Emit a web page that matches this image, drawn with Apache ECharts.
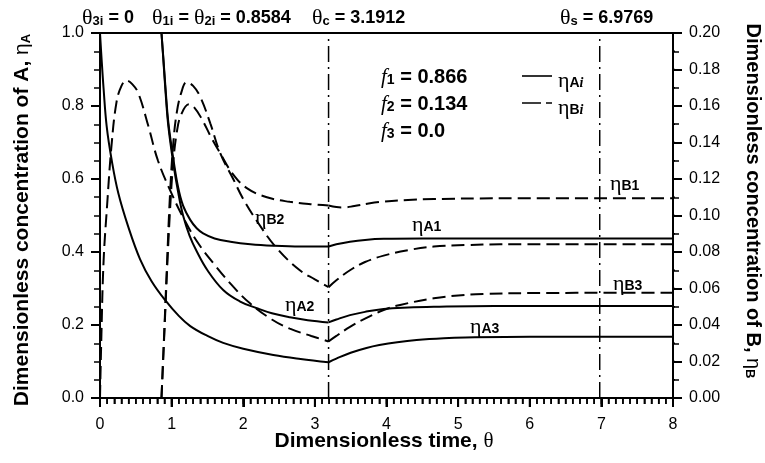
<!DOCTYPE html>
<html><head><meta charset="utf-8">
<script src="https://cdn.jsdelivr.net/npm/echarts@6/dist/echarts.min.js"></script>
<style>html,body{margin:0;padding:0;background:#fff}#c{width:765px;height:463px}</style>
</head><body><div id="c"></div>
<script>
// ---- data ----
const thetaC = 3.1912, thetaS = 6.9769, thetaI = 0.8584;
const xTickLabels = ['0','1','2','3','4','5','6','7','8'];
const leftTickLabels = ['0.0','0.2','0.4','0.6','0.8','1.0'];
const rightTickLabels = ['0.00','0.02','0.04','0.06','0.08','0.10','0.12','0.14','0.16','0.18','0.20'];
const xMajorTicks = [0,1,2,3,4,5,6,7,8];
const leftMajorTicks = [0,0.2,0.4,0.6,0.8,1.0];
const rightMajorTicks = [0,0.02,0.04,0.06,0.08,0.1,0.12,0.14,0.16,0.18,0.2];
const xMinorStep = 0.1, leftMinorStep = 0.05, rightMinorStep = 0.01;

const A1_pre = [[0.8584,1.0],[0.885,0.93],[0.92,0.835],[0.954,0.755],[1.02,0.66],[1.09,0.578],[1.16,0.527],[1.26,0.488],[1.35,0.465],[1.44,0.451],[1.6,0.437],[1.82,0.428],[2.1,0.421],[2.42,0.417],[2.8,0.415],[3.1912,0.415]];
const A2_pre = [[0.8584,1.0],[0.885,0.925],[0.92,0.825],[0.954,0.745],[1.02,0.648],[1.09,0.565],[1.16,0.5],[1.25,0.445],[1.35,0.402],[1.5,0.35],[1.72,0.296],[1.95,0.265],[2.19,0.246],[2.4,0.232],[2.65,0.221],[2.9,0.213],[3.1912,0.207]];
const A3_pre = [[0,1.0],[0.023,0.926],[0.05,0.848],[0.093,0.745],[0.163,0.652],[0.256,0.561],[0.395,0.469],[0.56,0.38],[0.72,0.32],[0.91,0.268],[1.1,0.225],[1.26,0.197],[1.5,0.17],[1.72,0.151],[2.0,0.135],[2.42,0.118],[2.8,0.107],[3.1912,0.098]];
const A1_post = [[3.1912,0.415],[3.3,0.421],[3.49,0.428],[3.7,0.433],[3.96,0.436],[4.5,0.437],[6,0.437],[8,0.437]];
const A2_post = [[3.1912,0.207],[3.3,0.215],[3.49,0.227],[3.7,0.236],[3.96,0.244],[4.3,0.248],[4.66,0.25],[5.5,0.252],[8,0.252]];
const A3_post = [[3.1912,0.098],[3.3,0.108],[3.5,0.124],[3.72,0.137],[3.9,0.145],[4.15,0.153],[4.42,0.159],[4.8,0.164],[5.1,0.166],[6,0.168],[8,0.168]];

const B1_pre = [[0.8584,0],[0.9,0.037],[0.94,0.073],[0.978,0.103],[1.02,0.128],[1.07,0.145],[1.13,0.155],[1.24,0.161],[1.32,0.159],[1.42,0.153],[1.55,0.143],[1.68,0.134],[1.85,0.123],[2.05,0.115],[2.33,0.11],[2.65,0.1075],[3.0,0.106],[3.1912,0.1055]];
const B2_pre = [[0.8584,0],[0.9,0.039],[0.94,0.078],[0.978,0.112],[1.02,0.138],[1.07,0.156],[1.14,0.168],[1.21,0.173],[1.3,0.171],[1.4,0.165],[1.54,0.1505],[1.68,0.134],[1.86,0.12],[2.0,0.109],[2.19,0.097],[2.47,0.082],[2.79,0.07],[3.0,0.065],[3.1912,0.0607]];
const B3_pre = [[0,0],[0.02,0.035],[0.05,0.075],[0.1,0.106],[0.16,0.138],[0.23,0.162],[0.3,0.171],[0.37,0.174],[0.45,0.172],[0.535,0.167],[0.675,0.149],[0.81,0.13],[1.0,0.112],[1.16,0.099],[1.35,0.086],[1.58,0.074],[1.86,0.061],[2.09,0.052],[2.4,0.043],[2.65,0.038],[2.95,0.034],[3.1912,0.031]];
const B1_post = [[3.1912,0.1055],[3.3,0.1046],[3.4,0.1044],[3.55,0.1052],[3.75,0.1066],[3.96,0.1076],[4.3,0.1085],[4.66,0.109],[5.5,0.1094],[8,0.1094]];
const B2_post = [[3.1912,0.0607],[3.3,0.0645],[3.49,0.07],[3.7,0.0745],[3.96,0.078],[4.3,0.081],[4.66,0.083],[5.1,0.0838],[5.59,0.0842],[8,0.0843]];
const B3_post = [[3.1912,0.031],[3.3,0.034],[3.49,0.039],[3.7,0.0435],[3.96,0.0482],[4.19,0.051],[4.66,0.0546],[5.0,0.0562],[5.35,0.057],[6,0.0575],[8,0.0577]];

// ---- chart ----
const chart = echarts.init(document.getElementById('c'), null, {renderer:'canvas'});
const SANS = '"Liberation Sans", Arial, Helvetica, sans-serif';
const SERIF = '"Liberation Serif", "Times New Roman", serif';
const DASH = [13, 6];
const PX_PER_X = 573 / 8, PX_PER_Y = 365;   // grid size, used only for tick lengths
function curve(data, yIdx, dashed){
  return {type:'line', data:data, xAxisIndex:0, yAxisIndex:yIdx, showSymbol:false, symbol:'none', smooth:0.4,
    silent:true, animation:false, z:3,
    lineStyle:{color:'#000', width:2, type: dashed ? DASH : 'solid'}};
}
function vline(x){
  return {type:'line', data:[[x,0],[x,1]], xAxisIndex:0, yAxisIndex:0, showSymbol:false, symbol:'none', silent:true, animation:false, z:2,
    lineStyle:{color:'#000', width:1.5, type:[16,5,2,5]}};
}
function steps(a, b, s){
  const r = [];
  for (let k = 0; a + k*s <= b + 1e-9; k++) r.push(+(a + k*s).toFixed(4));
  return r;
}
// axis ticks as short unclipped line segments placed through the axes' scales
function tickLines(values, side, yIdx, lenPx, width){
  const pts = [];
  values.forEach(v => {
    if (side === 'x') { pts.push([v, 0], [v, -lenPx / PX_PER_Y], [v, '-']); }
    else if (side === 'l') { pts.push([0, v], [-lenPx / PX_PER_X, v], ['-', v]); }
    else { pts.push([8, v], [8 + lenPx / PX_PER_X, v], ['-', v]); }
  });
  return {type:'line', data:pts, xAxisIndex:0, yAxisIndex:yIdx, showSymbol:false, symbol:'none', smooth:false,
    connectNulls:false, clip:false, silent:true, animation:false, z:6,
    lineStyle:{color:'#000', width:width, type:'solid', cap:'butt'}};
}
const richBase = {
  t:{font:'22px '+SERIF, lineHeight:20, fill:'#000'},
  s:{font:'bold 13px '+SANS, lineHeight:10, verticalAlign:'bottom', fill:'#000'},
  n:{font:'bold 18px '+SANS, lineHeight:20, fill:'#000'},
  e:{font:'22px '+SERIF, lineHeight:18, fill:'#000'},
  f:{font:'italic 21px '+SERIF, lineHeight:20, fill:'#000'},
  fn:{font:'bold 20px '+SANS, lineHeight:20, fill:'#000'},
  l:{font:'bold 14px '+SANS, lineHeight:10, verticalAlign:'bottom', fill:'#000'},
  si:{font:'bold italic 14px '+SERIF, lineHeight:10, verticalAlign:'bottom', fill:'#000'}
};
function txt(x, y, text){
  return {type:'text', x:x, y:y, silent:true, z:10,
    style:{text:text, align:'left', verticalAlign:'middle', rich:richBase, fill:'#000', font:'bold 18px '+SANS}};
}
const topLabels = [
  txt(82, 18, '{t|θ}{s|3i}{n| = 0}'),
  txt(152, 18, '{t|θ}{s|1i}{n| = }{t|θ}{s|2i}{n| = 0.8584}'),
  txt(312, 18, '{t|θ}{s|c}{n| = 3.1912}'),
  txt(560, 18, '{t|θ}{s|s}{n| = 6.9769}')
];
const legendTexts = [
  txt(381, 77, '{f|f}{l|1}{fn| = 0.866}'),
  txt(381, 104, '{f|f}{l|2}{fn| = 0.134}'),
  txt(381, 131, '{f|f}{l|3}{fn| = 0.0}'),
  txt(558, 81, '{e|η}{l|A}{si|i}'),
  txt(558, 108, '{e|η}{l|B}{si|i}'),
  {type:'line', silent:true, z:10, shape:{x1:522,y1:76,x2:552,y2:76}, style:{stroke:'#000', lineWidth:1.6}},
  {type:'line', silent:true, z:10, shape:{x1:522,y1:103,x2:552,y2:103}, style:{stroke:'#000', lineWidth:1.6, lineDash:[19,5,6,40]}}
];
const curveLabels = [
  txt(255, 218, '{e|η}{l|B2}'),
  txt(285, 305, '{e|η}{l|A2}'),
  txt(412, 225, '{e|η}{l|A1}'),
  txt(470, 327, '{e|η}{l|A3}'),
  txt(610, 184, '{e|η}{l|B1}'),
  txt(613, 284, '{e|η}{l|B3}')
];
const axisRich = {
  b:{font:'bold 21px '+SANS, fill:'#000'},
  e:{font:'21px '+SANS, fill:'#000'},
  s:{font:'bold 13px '+SANS, fill:'#000', verticalAlign:'bottom', lineHeight:10}
};
const axisRichR = {
  b:{font:'bold 20px '+SANS, fill:'#000'},
  e:{font:'20px '+SANS, fill:'#000'},
  s:{font:'bold 13px '+SANS, fill:'#000', verticalAlign:'bottom', lineHeight:10}
};
const axisTitles = [
  {type:'text', x:22, y:220, rotation:Math.PI/2, silent:true, z:10,
    style:{text:'{b|Dimensionless concentration of A, }{e|η}{s|A}', rich:axisRich, align:'center', verticalAlign:'middle'}},
  {type:'text', x:753, y:201, rotation:-Math.PI/2, silent:true, z:10,
    style:{text:'{b|Dimensionless concentration of B, }{e|η}{s|B}', rich:axisRichR, align:'center', verticalAlign:'middle'}},
  {type:'text', x:384, y:441, silent:true, z:10,
    style:{text:'{b|Dimensionless time, }{e|θ}', rich:{b:axisRich.b, e:{font:'21px '+SERIF, fill:'#000'}}, align:'center', verticalAlign:'middle'}}
];

const axisLineStyle = {color:'#000', width:2};
chart.setOption({
  animation:false,
  backgroundColor:'#fff',
  grid:{left:100, right:92, top:33, bottom:65, containLabel:false},
  xAxis:[{
    type:'value', min:0, max:8, interval:1, position:'bottom',
    axisLine:{show:true, onZero:false, lineStyle:axisLineStyle},
    axisTick:{show:true, inside:false, length:9, lineStyle:{color:'#000', width:2}},
    minorTick:{show:true, splitNumber:10, length:6, lineStyle:{color:'#000', width:1.5}},
    splitLine:{show:false},
    axisLabel:{show:true, margin:19, color:'#000', fontSize:16, fontFamily:'Liberation Sans', showMinLabel:true, showMaxLabel:true,
      formatter:(v)=>xTickLabels[Math.round(v)]}
  },{
    type:'value', min:0, max:8, position:'top',
    axisLine:{show:true, onZero:false, lineStyle:axisLineStyle},
    axisTick:{show:false}, splitLine:{show:false}, axisLabel:{show:false}
  }],
  yAxis:[{
    type:'value', min:0, max:1, interval:0.2, position:'left',
    axisLine:{show:true, onZero:false, lineStyle:axisLineStyle},
    axisTick:{show:true, inside:false, length:9, lineStyle:{color:'#000', width:2}},
    minorTick:{show:true, splitNumber:4, length:6, lineStyle:{color:'#000', width:1.5}},
    splitLine:{show:false},
    axisLabel:{show:true, margin:16, color:'#000', fontSize:16, fontFamily:'Liberation Sans', showMinLabel:true, showMaxLabel:true,
      formatter:(v)=>leftTickLabels[Math.round(v/0.2)]}
  },{
    type:'value', min:0, max:0.2, interval:0.02, position:'right',
    axisLine:{show:true, onZero:false, lineStyle:axisLineStyle},
    axisTick:{show:true, inside:false, length:9, lineStyle:{color:'#000', width:2}},
    minorTick:{show:true, splitNumber:2, length:6, lineStyle:{color:'#000', width:1.5}},
    splitLine:{show:false},
    axisLabel:{show:true, margin:16, color:'#000', fontSize:16, fontFamily:'Liberation Sans', showMinLabel:true, showMaxLabel:true,
      formatter:(v)=>rightTickLabels[Math.round(v/0.02)]}
  }],
  series:[
    vline(thetaC), vline(thetaS),
    curve(A1_pre,0,false), curve(A1_post,0,false),
    curve(A2_pre,0,false), curve(A2_post,0,false),
    curve(A3_pre,0,false), curve(A3_post,0,false),
    curve(B1_pre,1,true), curve(B1_post,1,true),
    curve(B2_pre,1,true), curve(B2_post,1,true),
    curve(B3_pre,1,true), curve(B3_post,1,true),
    tickLines(xMajorTicks, 'x', 0, 9, 2),
    tickLines(steps(0, 8, xMinorStep), 'x', 0, 6, 1.5),
    tickLines(leftMajorTicks, 'l', 0, 9, 2),
    tickLines(steps(0, 1, leftMinorStep), 'l', 0, 6, 1.5),
    tickLines(rightMajorTicks, 'r', 1, 9, 2),
    tickLines(steps(0, 0.2, rightMinorStep), 'r', 1, 6, 1.5)
  ],
  graphic: topLabels.concat(legendTexts, curveLabels, axisTitles)
});
</script>
</body></html>
